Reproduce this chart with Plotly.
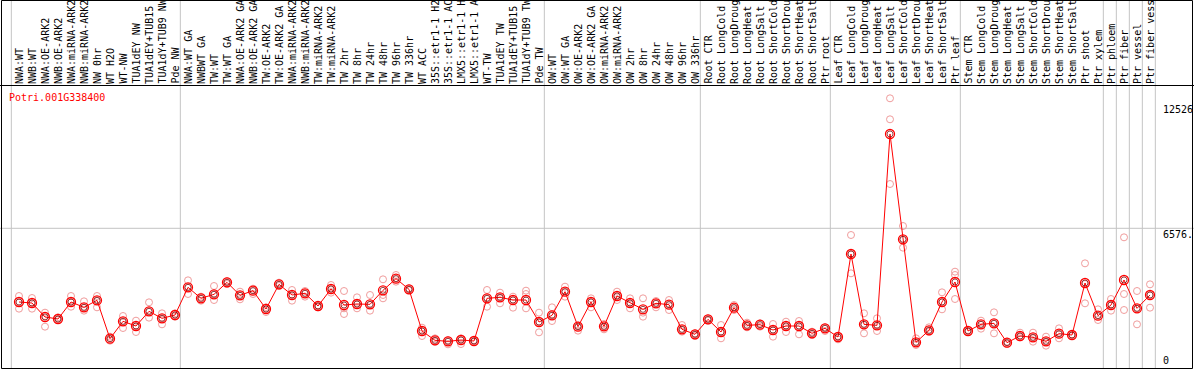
import plotly.graph_objects as go

title = "Potri.001G338400"

labels = [
    "NWA:WT", "NWB:WT", "NWA:OE-ARK2", "NWB:OE-ARK2", "NWA:miRNA-ARK2", "NWB:miRNA-ARK2",
    "NW 0hr", "WT H2O", "WT-NW", "TUA1dEY NW", "TUA1dEY+TUB15", "TUA1dY+TUB9 NW", "Pde NW",
    "NWA:WT GA", "NWBWT GA", "TW:WT", "TW:WT GA", "NWA:OE-ARK2 GA", "NWB:OE-ARK2 GA",
    "TW:OE-ARK2", "TW:OE-ARK2 GA", "NWA:miRNA-ARK2", "NWB:miRNA-ARK2", "TW:miRNA-ARK2",
    "TW:miRNA-ARK2", "TW 2hr", "TW 8hr", "TW 24hr", "TW 48hr", "TW 96hr", "TW 336hr",
    "WT ACC", "35S::etr1-1 H2", "35S::etr1-1 AC", "LMX5::etr1-1 H", "LMX5::etr1-1 A",
    "WT-TW", "TUA1dEY TW", "TUA1dEY+TUB15", "TUA1dY+TUB9 TW", "Pde TW",
    "OW:WT", "OW:WT GA", "OW:OE-ARK2", "OW:OE-ARK2 GA", "OW:miRNA-ARK2", "OW:miRNA-ARK2",
    "OW 2hr", "OW 8hr", "OW 24hr", "OW 48hr", "OW 96hr", "OW 336hr",
    "Root CTR", "Root LongCold", "Root LongDroug", "Root LongHeat", "Root LongSalt",
    "Root ShortCold", "Root ShortDrou", "Root ShortHeat", "Root ShortSalt", "Ptr root",
    "Leaf CTR", "Leaf LongCold", "Leaf LongDroug", "Leaf LongHeat", "Leaf LongSalt",
    "Leaf ShortCold", "Leaf ShortDrou", "Leaf ShortHeat", "Leaf ShortSalt", "Ptr leaf",
    "Stem CTR", "Stem LongCold", "Stem LongDroug", "Stem LongHeat", "Stem LongSalt",
    "Stem ShortCold", "Stem ShortDrou", "Stem ShortHeat", "Stem ShortSalt", "Ptr shoot",
    "Ptr xylem", "Ptr phloem", "Ptr fiber", "Ptr vessel", "Ptr fiber vess",
]

means = [
    3082, 3034, 2371, 2276, 3082, 2829, 3161, 1343, 2165, 1944, 2639, 2307, 2465,
    3777, 3256, 3445, 4014, 3398, 3619, 2750, 3919, 3414, 3493, 2892, 3698, 2939,
    2987, 2971, 3635, 4188, 3682, 1707, 1264, 1217, 1280, 1233, 3256, 3303, 3176,
    3176, 2133,
    2450, 3572, 1912, 3082, 1928, 3366, 3034, 2734, 3019, 2955, 1786, 1549,
    2260, 1659, 2813, 1975, 2007, 1754, 1944, 1944, 1596, 1833,
    1422, 5357, 2023, 1975, 11047, 6053, 1169, 1738, 3082, 4030,
    1707, 2023, 2070, 1154, 1470, 1406, 1217, 1580, 1517, 3982,
    2434, 2939, 4125, 2781, 3414,
]

rep_a = [
    3366, 3271, 2576, 2355, 3366, 3113, 3366, 1438, 2418, 2197, 3066, 2544, 2544,
    4109, 3335, 3840, 4077, 3572, 3714, 2829, 3998, 3651, 3603, 2924, 3888, 3603,
    3303, 3414, 4156, 4362, 3730, 1865, 1359, 1280, 1359, 1280, 3651, 3524, 3335,
    3619, 2576,
    2829, 3809, 1975, 3256, 2039, 3572, 3256, 3256, 3129, 3176, 1991, 1596,
    2307, 1991, 2939, 2102, 2070, 2039, 2149, 2181, 1675, 1881,
    1470, 6258, 2544, 2307, 12739, 6685, 1359, 1881, 3540, 4520,
    1754, 2197, 2592, 1201, 1628, 1628, 1438, 1833, 1549, 4915,
    2734, 3224, 6148, 3603, 3919,
]

rep_b = [
    3050, 3034, 2418, 2276, 3082, 2829, 3161, 1343, 2165, 1944, 2639, 2307, 2465,
    3777, 3256, 3445, 4014, 3398, 3619, 2750, 3919, 3414, 3493, 2892, 3698, 2781,
    2987, 2939, 3414, 4188, 3682, 1707, 1264, 1217, 1280, 1233, 3256, 3303, 3176,
    3461, 2133,
    2450, 3572, 1912, 3082, 1928, 3366, 3034, 2576, 3019, 2955, 1786, 1549,
    2260, 1659, 2813, 1975, 2007, 1754, 1944, 1944, 1596, 1833,
    1422, 5357, 2023, 1975, 11743, 6053, 1169, 1738, 3082, 4362,
    1707, 2023, 2070, 1154, 1470, 1406, 1217, 1580, 1517, 3935,
    2434, 2939, 3461, 2781, 3414,
]

rep_c = [
    2766, 2766, 1912, 2228, 2860, 2671, 2829, 1248, 1849, 1659, 2339, 2023, 2386,
    3461, 3145, 3176, 3935, 3208, 3461, 2608, 3840, 3145, 3335, 2829, 3524, 2513,
    2781, 2671, 3256, 4046, 3635, 1470, 1201, 1075, 1090, 1185, 2860, 3019, 2813,
    2781, 1644,
    2181, 3335, 1723, 2829, 1786, 3176, 2781, 2386, 2829, 2702, 1675, 1470,
    2197, 1359, 2702, 1881, 1912, 1438, 1659, 1549, 1517, 1707,
    1312, 4441, 1596, 1707, 8676, 5658, 1043, 1675, 2734, 3224,
    1659, 1817, 1596, 1090, 1406, 1201, 1011, 1359, 1470, 3019,
    2228, 2671, 2702, 2023, 2813,
]

group_starts = [0, 13, 41, 53, 63, 73, 84, 85, 86, 87, 88]
ref_value = 6576
max_value = 12526
axis_texts = ["12526", "6576.", "0"]

W, H = 1194, 370
MONO = "DejaVu Sans Mono"

x = list(range(len(labels)))

fig = go.Figure()

for reps in (rep_a, rep_b, rep_c):
    fig.add_trace(go.Scatter(
        x=x, y=reps, mode="markers",
        marker=dict(symbol="circle-open", size=7, color="#f09c9c", line=dict(width=1)),
        hoverinfo="skip", showlegend=False,
    ))

fig.add_trace(go.Scatter(
    x=x, y=means, mode="lines+markers",
    line=dict(color="#ff0000", width=1),
    marker=dict(symbol="circle-open", size=9, color="#ff0000", line=dict(width=1.3)),
    showlegend=False,
))
fig.add_trace(go.Scatter(
    x=x, y=means, mode="markers",
    marker=dict(symbol="circle-open", size=6, color="#700000", line=dict(width=0.7)),
    hoverinfo="skip", showlegend=False,
))

shapes = []
for g in group_starts:
    shapes.append(dict(type="line", xref="x", yref="paper", x0=g - 0.59, x1=g - 0.59,
                       y0=1 - 368 / H, y1=1, line=dict(color="#c4c4c4", width=1), layer="below"))
shapes.append(dict(type="line", xref="paper", yref="y", x0=0, x1=1, y0=ref_value, y1=ref_value,
                   line=dict(color="#c4c4c4", width=1), layer="below"))
shapes.append(dict(type="line", xref="paper", yref="paper", x0=0, x1=1,
                   y0=1 - 85.5 / H, y1=1 - 85.5 / H, line=dict(color="black", width=1)))
shapes.append(dict(type="rect", xref="paper", yref="paper", x0=1.5 / W, x1=1192.5 / W,
                   y0=1 - 368.5 / H, y1=1 - 0.5 / H, line=dict(color="black", width=1)))

annotations = []
for i, lab in enumerate(labels):
    annotations.append(dict(x=i, y=(367 - 85) * 47.41, xref="x", yref="y", text=lab,
                            textangle=-90, xanchor="center", yanchor="bottom",
                            showarrow=False, borderpad=0,
                            font=dict(family=MONO, size=10, color="black")))

annotations.append(dict(x=7 / W, y=1 - 97 / H, xref="paper", yref="paper", text=title,
                        xanchor="left", yanchor="middle", showarrow=False,
                        font=dict(family=MONO, size=10, color="#ff0000")))
annotations.append(dict(x=1162 / W, y=max_value, xref="paper", yref="y", text=axis_texts[0],
                        xanchor="left", yanchor="top", showarrow=False, borderpad=0,
                        font=dict(family=MONO, size=10, color="black")))
annotations.append(dict(x=1162 / W, y=ref_value, xref="paper", yref="y", text=axis_texts[1],
                        xanchor="left", yanchor="top", showarrow=False, borderpad=0,
                        font=dict(family=MONO, size=10, color="black")))
annotations.append(dict(x=1162 / W, y=0, xref="paper", yref="y", text=axis_texts[2],
                        xanchor="left", yanchor="bottom", showarrow=False, borderpad=0,
                        font=dict(family=MONO, size=10, color="black")))

fig.update_layout(
    width=W, height=H,
    margin=dict(l=0, r=0, t=0, b=0),
    paper_bgcolor="white", plot_bgcolor="white",
    xaxis=dict(range=[-19 / 13, (W - 19) / 13], visible=False, fixedrange=True),
    yaxis=dict(range=[-3 * 47.41, 367 * 47.41], visible=False, fixedrange=True),
    shapes=shapes, annotations=annotations,
    showlegend=False,
)

fig.write_html(
    "out.html",
    config={"displayModeBar": False, "staticPlot": True},
    post_script="document.body.style.margin='0';document.body.style.overflow='hidden';",
)
